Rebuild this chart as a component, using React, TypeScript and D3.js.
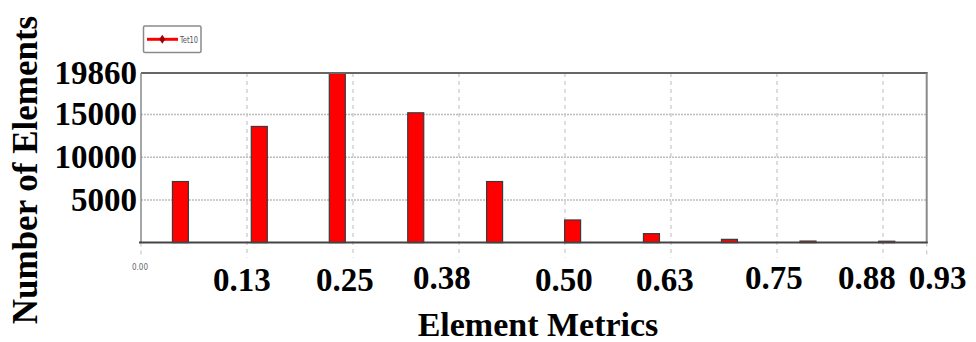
import React from "react";
import * as d3 from "d3";

const binCenters = [0.0465, 0.1395, 0.2315, 0.324, 0.417, 0.509, 0.602, 0.694, 0.7866, 0.8795];
const counts = [7150, 13600, 19860, 15200, 7150, 2650, 1050, 380, 180, 160];
const xTickValues = [0.125, 0.25, 0.375, 0.5, 0.625, 0.75, 0.875, 0.9266];
const xTickLabels = ["0.13", "0.25", "0.38", "0.50", "0.63", "0.75", "0.88", "0.93"];
const yTickValues = [5000, 10000, 15000, 19860];
const yTickLabels = ["5000", "10000", "15000", "19860"];
const seriesName = "Tet10";
const xTitle = "Element Metrics";
const yTitle = "Number of Elements";

// layout: horizontal nudges of the x tick labels (px), as placed in the original figure
const xLabelNudge = [-5, -8, -17, -1, -6, -3, -16, 11];
const xLabelBaseline = [291, 291, 289, 291, 291, 289, 289, 289];

const W = 976;
const H = 342;
const left = 141;
const right = 926.7;
const top = 73;
const bottom = 242.6;
const serif = "'Liberation Serif', 'Times New Roman', serif";

export default function App() {
  const x = d3.scaleLinear().domain([0, 0.9266]).range([left, right]);
  const y = d3.scaleLinear().domain([0, 19860]).range([bottom, top]);
  const barW = 16;
  const gridX = xTickValues.slice(0, 7);

  return (
    <svg width={W} height={H} style={{ position: "absolute", left: 0, top: 0, background: "#fff" }}>
      {/* horizontal gridlines */}
      {yTickValues.slice(0, 3).map((v) => (
        <line key={"hg" + v} x1={left} x2={right} y1={y(v)} y2={y(v)} stroke="#bdbdbd" strokeWidth={1.5} strokeDasharray="2,1" />
      ))}
      {/* vertical gridlines */}
      {gridX.map((v) => (
        <line key={"vg" + v} x1={x(v)} x2={x(v)} y1={top} y2={bottom + 15} stroke="#c8c8c8" strokeWidth={1.2} strokeDasharray="4,4" />
      ))}
      <line x1={x(0)} x2={x(0)} y1={bottom} y2={bottom + 15} stroke="#c8c8c8" strokeWidth={1.2} strokeDasharray="4,4" />
      <line x1={right} x2={right} y1={bottom} y2={bottom + 15} stroke="#c8c8c8" strokeWidth={1.2} strokeDasharray="4,4" />

      {/* bars */}
      {counts.map((c, i) => (
        <rect
          key={"b" + i}
          x={x(binCenters[i]) - barW / 2}
          y={y(c)}
          width={barW}
          height={bottom - y(c)}
          fill="#ff0000"
          stroke="#3a3a3a"
          strokeWidth={1.2}
        />
      ))}

      {/* frame */}
      <line x1={left} x2={right + 1} y1={top} y2={top} stroke="#666" strokeWidth={2} />
      <line x1={right} x2={right} y1={top} y2={bottom} stroke="#8a8a8a" strokeWidth={2} />
      <line x1={left} x2={left} y1={top} y2={bottom} stroke="#888" strokeWidth={1.5} />
      <line x1={left - 2} x2={right + 1} y1={bottom} y2={bottom} stroke="#444" strokeWidth={2} />

      {/* y tick labels */}
      {yTickValues.map((v, i) => (
        <text key={"yl" + v} x={137} y={y(v)} dy="0.33em" textAnchor="end" fontFamily={serif} fontWeight="bold" fontSize={33} fill="#000">
          {yTickLabels[i]}
        </text>
      ))}

      {/* x tick labels */}
      <text x={x(0) - 1} y={270} textAnchor="middle" fontFamily="'Liberation Sans Narrow', 'DejaVu Sans Condensed', sans-serif" fontSize={8} fill="#666">
        0.00
      </text>
      {xTickValues.map((v, i) => (
        <text key={"xl" + v} x={x(v) + xLabelNudge[i]} y={xLabelBaseline[i]} textAnchor="middle" fontFamily={serif} fontWeight="bold" fontSize={33} fill="#000">
          {xTickLabels[i]}
        </text>
      ))}

      {/* titles */}
      <text x={538} y={336} textAnchor="middle" fontFamily={serif} fontWeight="bold" fontSize={34} fill="#000">
        {xTitle}
      </text>
      <text transform={`translate(37,170) rotate(-90)`} textAnchor="middle" fontFamily={serif} fontWeight="bold" fontSize={35} fill="#000">
        {yTitle}
      </text>

      {/* legend */}
      <rect x={143.5} y={26} width={57.5} height={26.5} rx={1.5} fill="#fff" stroke="#8a8a8a" strokeWidth={1.5} />
      <line x1={147} x2={178} y1={39.3} y2={39.3} stroke="#ff0000" strokeWidth={3} />
      <path d="M162.3,34.8 L165.3,39.3 L162.3,43.8 L159.3,39.3 Z" fill="#a00000" />
      <text x={180} y={43} fontFamily="'Liberation Sans Narrow', 'DejaVu Sans Condensed', sans-serif" fontSize={9} fill="#555" textLength={18} lengthAdjust="spacingAndGlyphs">
        {seriesName}
      </text>
    </svg>
  );
}
